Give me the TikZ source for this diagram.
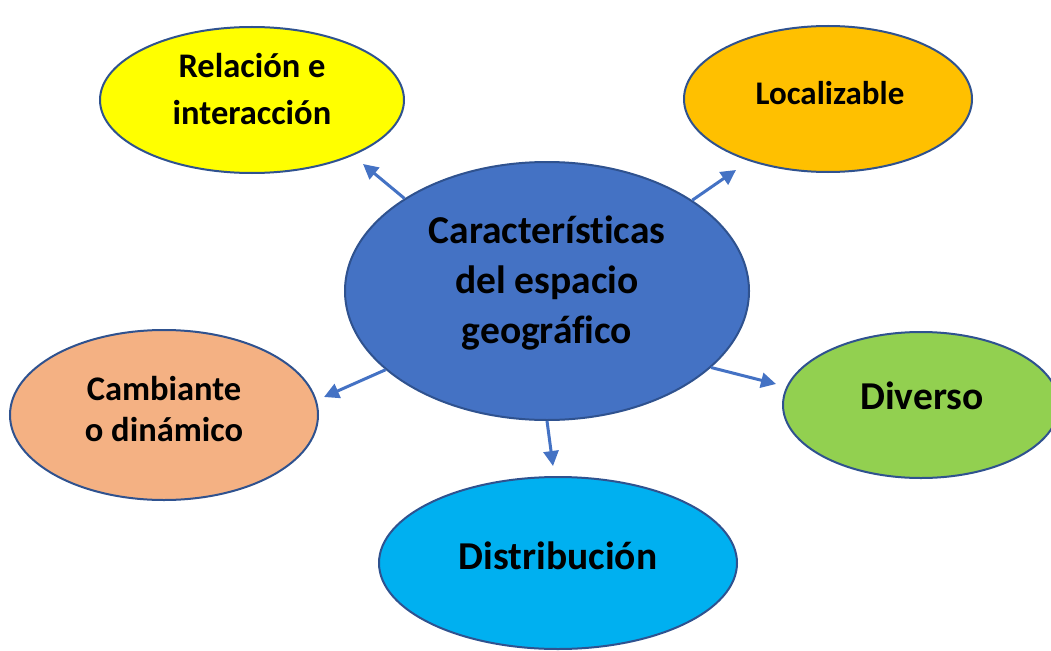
\documentclass[tikz,border=0pt]{standalone}
\usepackage{fontspec}
\setmainfont{Carlito}[Ligatures=NoCommon]
\usetikzlibrary{shapes.geometric,arrows.meta}
\definecolor{mainblue}{HTML}{4472C4}
\definecolor{edgeblue}{HTML}{2F528F}
\definecolor{cyel}{HTML}{FFFF00}
\definecolor{corange}{HTML}{FFC000}
\definecolor{cpeach}{HTML}{F4B183}
\definecolor{cgreen}{HTML}{92D050}
\definecolor{ccyan}{HTML}{00B0F0}
\tikzset{
  oval/.style={ellipse, draw=edgeblue, line width=2pt, inner sep=0pt},
  lbl/.style={align=center, inner sep=0pt, font=\bfseries},
  arr/.style={draw=mainblue, line width=3pt, -{Triangle[length=15pt,width=15pt]}},
}
\begin{document}
\begin{tikzpicture}[x=1pt,y=-1pt]
\useasboundingbox (0,0) rectangle (1051,650);
% ellipses
\node[oval, fill=mainblue, minimum width=404pt, minimum height=258pt] (c) at (547,291) {};
\node[oval, fill=cyel, minimum width=304pt, minimum height=146pt] (rel) at (252,100) {};
\node[oval, fill=corange, minimum width=288pt, minimum height=146pt] (loc) at (828,99) {};
\node[oval, fill=cpeach, minimum width=308pt, minimum height=170pt] (cam) at (164,415) {};
\node[oval, fill=cgreen, minimum width=276pt, minimum height=146pt] (div) at (921,405) {};
\node[oval, fill=ccyan, minimum width=358pt, minimum height=172pt] (dis) at (558,563) {};
% texts
\node[lbl, font=\bfseries\fontsize{39.5}{50}\selectfont] (ct) at (547,283) {Características\\del espacio\\geográfico};
\node[lbl, font=\bfseries\fontsize{34.5}{47}\selectfont] (relt) at (252,89) {Relación e\\interacción};
\node[lbl, font=\bfseries\fontsize{33}{40}\selectfont] (loct) at (830,93) {Localizable};
\node[lbl, font=\bfseries\fontsize{34.5}{41}\selectfont] (camt) at (164,409) {Cambiante\\o dinámico};
\node[lbl, font=\bfseries\fontsize{39.5}{48}\selectfont] (divt) at (922,396) {Diverso};
\node[lbl, font=\bfseries\fontsize{39.5}{48}\selectfont] (dist) at (558,556) {Distribución};
% arrow tips
\coordinate (trel) at (363,164);
\coordinate (tloc) at (736,170);
\coordinate (tcam) at (324,397);
\coordinate (tdiv) at (776,384);
\coordinate (tdis) at (553,466);
% connectors
\draw[arr] (c.147) -- (trel);
\draw[arr] (c.32) -- (tloc);
\draw[arr] (c.206) -- (tcam);
\draw[arr] (c.335) -- (tdiv);
\draw[arr] (c.270) -- (tdis);
\end{tikzpicture}
\end{document}
